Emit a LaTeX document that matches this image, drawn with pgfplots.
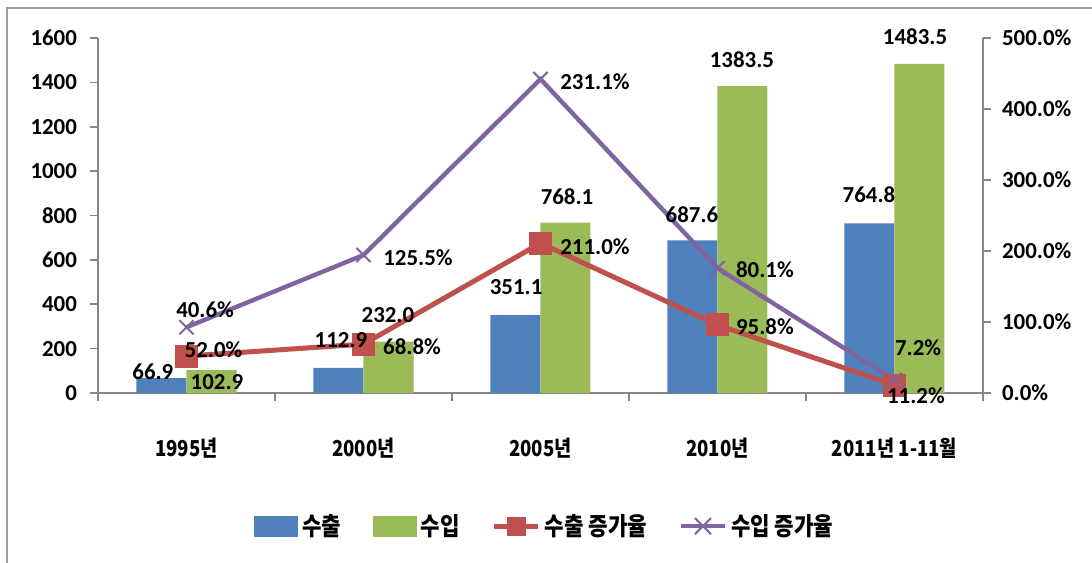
\documentclass[border=0pt]{standalone}
\usepackage{fontspec}
\setmainfont{Carlito}
\newfontfamily\kr{Noto Sans CJK KR}[FakeStretch=0.85]
\usepackage{pgfplots}
\pgfplotsset{compat=1.18}
\definecolor{cblue}{HTML}{4F81BD}
\definecolor{cgreen}{HTML}{9BBB59}
\definecolor{cred}{HTML}{C0504D}
\definecolor{cpurple}{HTML}{8064A2}
\definecolor{axgray}{HTML}{868686}
\begin{document}
\begin{tikzpicture}
\useasboundingbox (-49bp,-85bp) rectangle (497bp,196.5bp);
\draw[axgray!80, line width=1.2bp] (-45.5bp,-85bp) -- (-45.5bp,192.5bp) -- (497bp,192.5bp);
\begin{axis}[
  scale only axis, width=442.5bp, height=177.5bp,
  xmin=-0.5, xmax=4.5, ymin=0, ymax=1600,
  axis x line*=bottom, axis y line*=left,
  axis line style={axgray, line width=0.8bp},
  tick align=outside,
  major tick length=4bp, minor tick length=4bp,
  xtick={0,1,2,3,4},
  xticklabels={1995년, 2000년, 2005년, 2010년, 2011년 1-11월},
  xticklabel style={font=\kr\bfseries\fontsize{11}{13}\selectfont, yshift=-15bp},
  major x tick style={draw=none},
  minor xtick={-0.5,0.5,1.5,2.5,3.5,4.5},
  minor x tick style={draw=axgray, line width=0.8bp},
  ytick={0,200,...,1600},
  yticklabels={0,200,400,600,800,1000,1200,1400,1600},
  yticklabel style={font=\bfseries\fontsize{11.5}{13}\selectfont, xshift=-3bp},
  y tick style={draw=axgray, line width=0.8bp},
  clip=false,
]
\addplot[ybar, bar width=25bp, bar shift=-12.5bp, fill=cblue, draw=none]
  coordinates {(0,66.9) (1,112.9) (2,351.1) (3,687.6) (4,764.8)};
\addplot[ybar, bar width=25bp, bar shift=12.5bp, fill=cgreen, draw=none]
  coordinates {(0,102.9) (1,232.0) (2,768.1) (3,1383.5) (4,1483.5)};
\end{axis}
\begin{axis}[
  scale only axis, width=442.5bp, height=177.5bp,
  xmin=-0.5, xmax=4.5, ymin=0, ymax=500,
  axis x line=none, axis y line*=right,
  axis line style={axgray, line width=0.8bp},
  tick align=outside, major tick length=4bp,
  ytick={0,100,...,500},
  yticklabels={0.0\%,100.0\%,200.0\%,300.0\%,400.0\%,500.0\%},
  yticklabel style={font=\bfseries\fontsize{11.5}{13}\selectfont, xshift=2bp},
  y tick style={draw=axgray, line width=0.8bp},
  clip=false,
  legend style={at={(0.506,-0.375)}, anchor=center, draw=none, fill=none,
    legend columns=4, font=\kr\bfseries\fontsize{12.5}{15}\selectfont,
    /tikz/every even column/.append style={column sep=14bp}},
  legend entries={수출, 수입, 수출 증가율, 수입 증가율},
]
\addlegendimage{legend image code/.code={\fill[cblue] (0bp,-5bp) rectangle (21.5bp,5bp);}}
\addlegendimage{legend image code/.code={\fill[cgreen] (0bp,-5bp) rectangle (21.5bp,5bp);}}
% 수출 증가율 (red)
\addplot[cred, line width=2.5bp, mark=square*, mark size=4.5bp, mark options={solid},
  legend image code/.code={\draw[cred, line width=2.5bp] (0bp,0bp) -- (22bp,0bp); \fill[cred] (11bp,0bp) +(-3.5bp,-3.5bp) rectangle +(3.5bp,3.5bp);}]
  coordinates {(0,52.0) (1,68.8) (2,211.0) (3,95.8) (4,11.2)};
% 수입 증가율 (purple), drawn stacked on the red series as in the source:
% 40.6, 125.5, 231.1, 80.1, 7.2 added to 52.0, 68.8, 211.0, 95.8, 11.2
\addplot[cpurple, line width=2.2bp, mark=x, mark size=5bp, mark options={solid, line width=1bp},
  legend image code/.code={\draw[cpurple, line width=2bp] (0bp,0bp) -- (22bp,0bp); \draw[cpurple, line width=1bp] (11bp,0bp) +(-4bp,-4bp) -- +(4bp,4bp) +(-4bp,4bp) -- +(4bp,-4bp);}]
  coordinates {(0,92.6) (1,194.3) (2,442.1) (3,175.9) (4,18.4)};
\end{axis}
% data labels, drawn on top of bars and lines
\begin{axis}[
  scale only axis, width=442.5bp, height=177.5bp,
  xmin=-0.5, xmax=4.5, ymin=0, ymax=500,
  hide axis, clip=false,
]
\begin{scope}[every node/.style={font=\bfseries\fontsize{11.5}{13}\selectfont, inner sep=0pt}]
\node at (axis cs:-0.19,29.6) {66.9};
\node at (axis cs:0.172,15.5) {102.9};
\node at (axis cs:0.873,74.6) {112.9};
\node at (axis cs:1.138,109.9) {232.0};
\node at (axis cs:1.862,149) {351.1};
\node at (axis cs:2.15,276) {768.1};
\node at (axis cs:2.856,250.7) {687.6};
\node at (axis cs:3.138,469) {1383.5};
\node at (axis cs:3.856,278.9) {764.8};
\node at (axis cs:4.116,501.4) {1483.5};
\node at (axis cs:0.105,116.9) {40.6\%};
\node at (axis cs:0.153,60.6) {52.0\%};
\node at (axis cs:1.274,64.8) {68.8\%};
\node at (axis cs:1.308,190) {125.5\%};
\node at (axis cs:2.308,438) {231.1\%};
\node at (axis cs:2.308,205.6) {211.0\%};
\node at (axis cs:3.268,173.2) {80.1\%};
\node at (axis cs:3.268,93) {95.8\%};
\node at (axis cs:4.133,63.4) {7.2\%};
\node at (axis cs:4.121,-4.2) {11.2\%};
\end{scope}
\end{axis}
\end{tikzpicture}
\end{document}
